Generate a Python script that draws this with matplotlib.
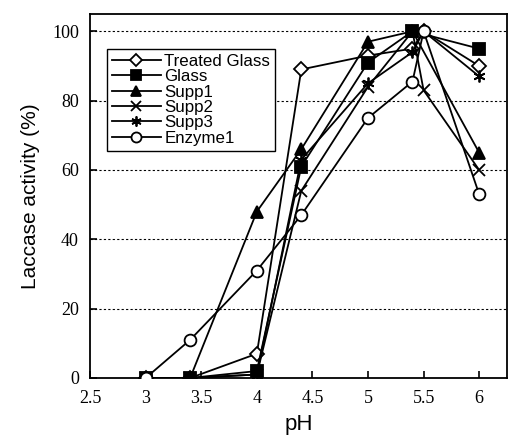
import matplotlib

matplotlib.use("Agg")
import matplotlib.pyplot as plt

# pH values per series and relative laccase activity (%)
PH_TREATED = [3, 3.4, 4, 4.4, 5, 5.4, 5.5, 6]
TREATED = [0, 0, 7, 89, 93, 95, 100, 90]

PH_GLASS = [3, 3.4, 4, 4.4, 5, 5.4, 6]
GLASS = [0, 0, 2, 61, 91, 100, 95]

PH_SUPP1 = [3, 3.4, 4, 4.4, 5, 5.4, 6]
SUPP1 = [0, 0, 48, 66, 97, 100, 65]

PH_SUPP2 = [3, 3.4, 4, 4.4, 5, 5.4, 5.5, 6]
SUPP2 = [0, 0, 1, 54, 84, 100, 83, 60]

PH_SUPP3 = [3, 3.4, 4, 4.4, 5, 5.4, 5.5, 6]
SUPP3 = [0, 0, 1, 63, 85, 94, 100, 87]

PH_ENZ = [3, 3.4, 4, 4.4, 5, 5.4, 5.5, 6]
ENZ = [0, 11, 31, 47, 75, 85.5, 100, 53]

XTICKS = [2.5, 3, 3.5, 4, 4.5, 5, 5.5, 6]
YTICKS = [0, 20, 40, 60, 80, 100]

fig = plt.figure(figsize=(5.09, 4.45), dpi=100)
ax = fig.add_axes([0.177, 0.1506, 0.819, 0.818])

common = dict(color="black", linewidth=1.3, markersize=8.5, markeredgewidth=1.3)
ax.plot(PH_TREATED, TREATED, marker="D", markerfacecolor="white",
        markersize=7, label="Treated Glass", zorder=3,
        **{k: v for k, v in common.items() if k != "markersize"})
ax.plot(PH_GLASS, GLASS, marker="s", markerfacecolor="black", label="Glass", zorder=3, **common)
ax.plot(PH_SUPP1, SUPP1, marker="^", markerfacecolor="black", label="Supp1", zorder=3, **common)
ax.plot(PH_SUPP2, SUPP2, marker="x", label="Supp2", zorder=3, **common)
ax.plot(PH_SUPP3, SUPP3, marker=(6, 2, 0), label="Supp3", zorder=3, **common)
ax.plot(PH_ENZ, ENZ, marker="o", markerfacecolor="white", label="Enzyme1", zorder=4, **common)

ax.set_xlim(2.5, 6.25)
ax.set_ylim(0, 105)
ax.set_xticks(XTICKS)
ax.set_xticklabels([f"{t:g}" for t in XTICKS])
ax.set_yticks(YTICKS)

for y in YTICKS[1:]:
    ax.axhline(y, color="black", linestyle=(0, (2, 2)), linewidth=0.8, zorder=1)

ax.tick_params(direction="in", length=5, width=1.2, labelsize=13, pad=8)
for lab in ax.get_xticklabels() + ax.get_yticklabels():
    lab.set_family("Liberation Serif")
ax.tick_params(axis="x", pad=9)
for s in ax.spines.values():
    s.set_linewidth(1.3)

ax.set_xlabel("pH", family="Liberation Sans", fontsize=16, labelpad=5)
ax.set_ylabel("Laccase activity (%)", family="Liberation Sans", fontsize=15, labelpad=9)

leg = ax.legend(loc="upper left", bbox_to_anchor=(0.04, 0.904), frameon=True,
                fancybox=False, edgecolor="black", framealpha=1,
                prop={"family": "Liberation Sans", "size": 12.2},
                handlelength=2.9, handletextpad=0.2, labelspacing=0.02,
                borderpad=0.3, borderaxespad=0, markerscale=0.85)
leg.get_frame().set_linewidth(1.0)

fig.savefig("out.png", dpi=100)
